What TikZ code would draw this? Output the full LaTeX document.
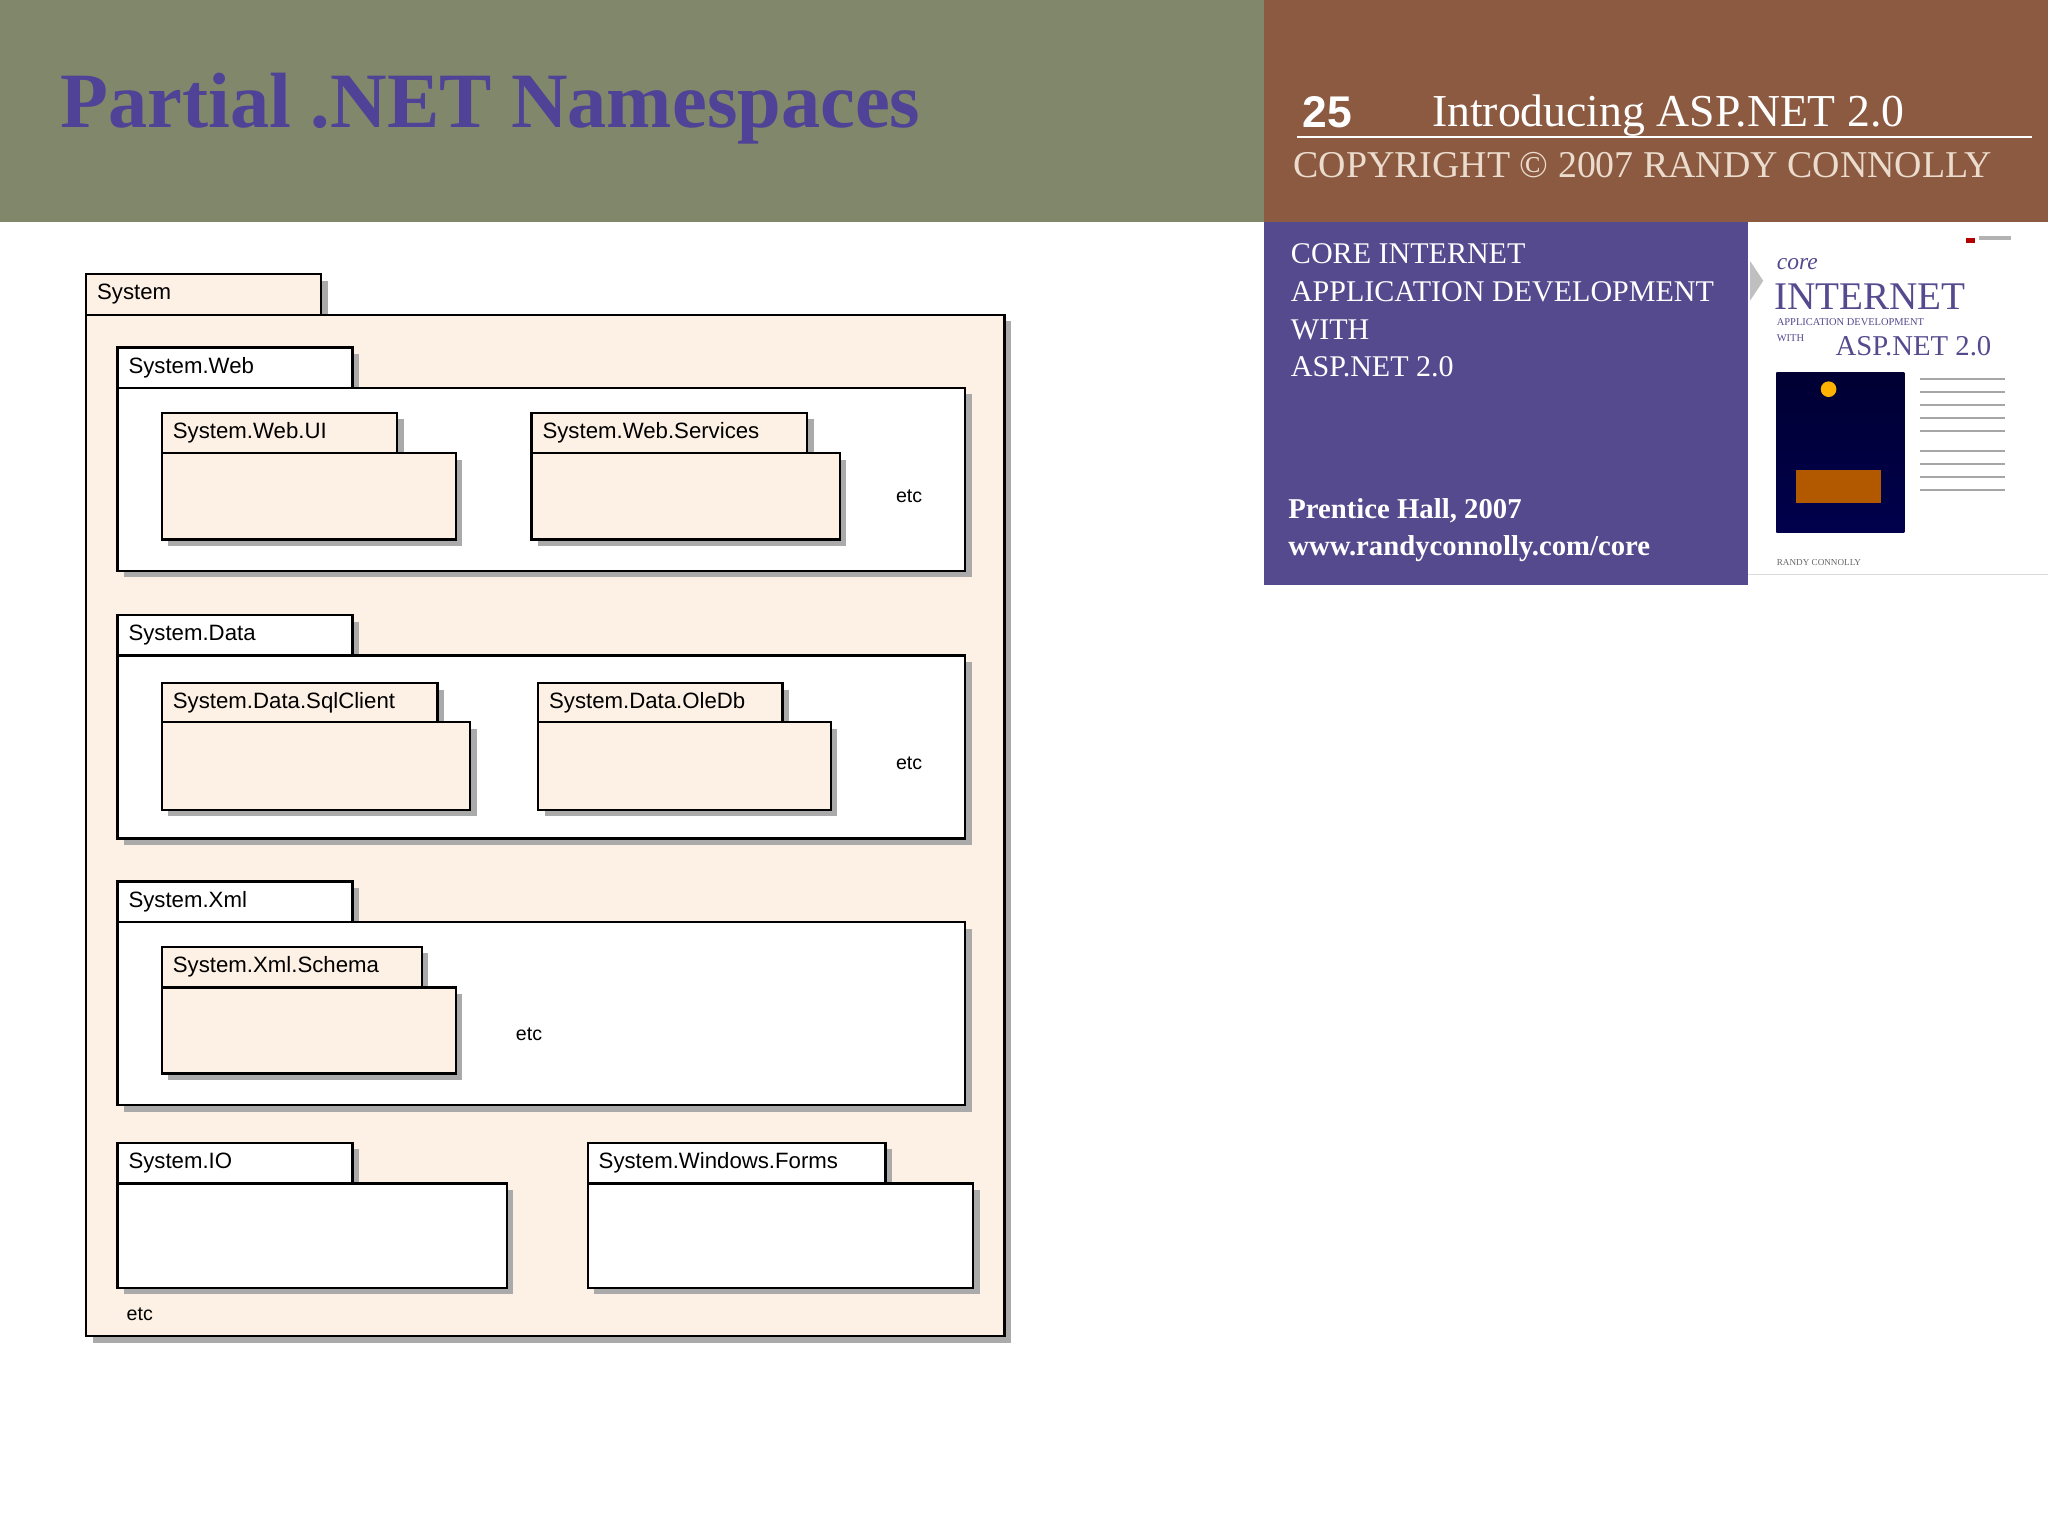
\documentclass[tikz,border=0pt]{standalone}
\usepackage{fontspec}
\setmainfont{Liberation Serif}
\newfontfamily\lsans{Liberation Sans}
\definecolor{hdrgreen}{RGB}{128,135,106}
\definecolor{hdrbrown}{RGB}{139,90,64}
\definecolor{hdrpurple}{RGB}{86,74,143}
\definecolor{titlepurple}{RGB}{80,66,150}
\definecolor{peach}{RGB}{253,240,228}
\definecolor{shad}{RGB}{170,170,170}
\definecolor{copyc}{RGB}{235,220,205}
\tikzset{
  lbl/.style={anchor=west,inner sep=0pt,font=\lsans\fontsize{8.5}{9}\selectfont},
  etcl/.style={inner sep=0pt,font=\lsans\fontsize{7.5}{8}\selectfont},
  box/.style={draw=black,line width=0.9pt},
}
% #1 x1, #2 y tab top, #3 tab x2, #4 tab bottom, #5 body x2, #6 body y2, #7 fill, #8 name, #9 label
\newcommand{\pkgdraw}[9]{%
  \fill[shad] (#1+5,#4+5) rectangle (#5+5,#6+5);
  \fill[shad] (#1+5,#2+5) rectangle (#3+5,#4+5);
  \draw[box,fill=#7] (#1,#4) rectangle (#5,#6);
  \draw[box,fill=#7] (#1,#2) rectangle (#3,#4);
  \node[lbl] (#8) at (#1+8,{(#2+#4)/2}) {#9};
}
\begin{document}
\begin{tikzpicture}[x=0.5pt,y=-0.5pt]
\useasboundingbox (0,0) rectangle (1568,1176);
\fill[white] (0,0) rectangle (1568,1176);
% header
\fill[hdrgreen] (0,0) rectangle (968,170);
\fill[hdrbrown] (968,0) rectangle (1568,170);
\node[anchor=base west,inner sep=0pt,text=titlepurple,font=\bfseries\fontsize{30}{32}\selectfont] (title) at (46,98) {Partial .NET Namespaces};
\node[anchor=base west,inner sep=0pt,text=white,font=\lsans\bfseries\fontsize{17}{18}\selectfont] (num) at (997,98) {25};
\node[anchor=base west,inner sep=0pt,text=white,font=\fontsize{17.5}{18}\selectfont] (intro) at (1096,97) {Introducing ASP.NET 2.0};
\draw[white,line width=0.8pt] (993,105) -- (1556,105);
\node[anchor=base west,inner sep=0pt,text=copyc,font=\fontsize{14.5}{15}\selectfont] (copy) at (990,136) {COPYRIGHT © 2007 RANDY CONNOLLY};
% purple box
\fill[hdrpurple] (968,170) rectangle (1338,448);
\node[anchor=north west,inner sep=0pt,text=white,align=left,font=\fontsize{11.5}{14.5}\selectfont] (core) at (988,186) {CORE INTERNET\\APPLICATION DEVELOPMENT\\WITH\\ASP.NET 2.0};
\node[anchor=north west,inner sep=0pt,text=white,align=left,font=\bfseries\fontsize{11}{14.5}\selectfont] (ph) at (986,381) {Prentice Hall, 2007\\www.randyconnolly.com/core};
% book cover
\fill[white] (1338,170) rectangle (1568,440);
\draw[black!15] (1338,440) -- (1568,440);
\fill[black!25] (1340,200) -- (1350,215) -- (1340,230) -- cycle;
\node[anchor=west,inner sep=0pt,text=hdrpurple,font=\itshape\fontsize{9}{9}\selectfont] (bc) at (1360,202) {core};
\node[anchor=west,inner sep=0pt,text=hdrpurple,font=\fontsize{15}{15}\selectfont] (bi) at (1358,227) {INTERNET};
\node[anchor=west,inner sep=0pt,text=hdrpurple,font=\fontsize{4}{4}\selectfont] (ba) at (1360,247) {APPLICATION DEVELOPMENT};
\node[anchor=west,inner sep=0pt,text=hdrpurple,font=\fontsize{4}{4}\selectfont] (bw) at (1360,259) {WITH};
\node[anchor=west,inner sep=0pt,text=hdrpurple,font=\fontsize{11}{11}\selectfont] (bn) at (1405,265) {ASP.NET 2.0};
\fill[red!70!black] (1505,182) rectangle (1512,186);
\fill[black!30] (1515,181) rectangle (1540,184);
\shade[top color=black!80!blue,bottom color=blue!30!black] (1360,285) rectangle (1458,408);
\fill[orange!60!yellow] (1400,298) circle (6);
\fill[orange!70!black] (1375,360) rectangle (1440,385);
\foreach \yy in {290,300,310,320,330,345,355,365,375}{\draw[black!35,line width=0.8pt] (1470,\yy) -- (1535,\yy);}
\node[anchor=west,inner sep=0pt,text=black!60,font=\fontsize{3.5}{4}\selectfont] (ba2) at (1360,431) {RANDY CONNOLLY};
% diagram
\pkgdraw{66}{210}{246}{241}{769}{1023}{peach}{sys}{System}
\pkgdraw{90}{266}{270}{297}{739}{437}{white}{web}{System.Web}
\pkgdraw{124}{316}{304}{347}{349}{413}{peach}{webui}{System.Web.UI}
\pkgdraw{407}{316}{618}{347}{643}{413}{peach}{websvc}{System.Web.Services}
\node[etcl] (etc1) at (696,380) {etc};
\pkgdraw{90}{471}{270}{502}{739}{642}{white}{data}{System.Data}
\pkgdraw{124}{523}{335}{553}{360}{620}{peach}{sql}{System.Data.SqlClient}
\pkgdraw{412}{523}{599}{553}{636}{620}{peach}{ole}{System.Data.OleDb}
\node[etcl] (etc2) at (696,584) {etc};
\pkgdraw{90}{675}{270}{706}{739}{846}{white}{xml}{System.Xml}
\pkgdraw{124}{725}{323}{756}{349}{822}{peach}{schema}{System.Xml.Schema}
\node[etcl] (etc3) at (405,792) {etc};
\pkgdraw{90}{875}{270}{906}{388}{986}{white}{io}{System.IO}
\pkgdraw{450}{875}{678}{906}{745}{986}{white}{forms}{System.Windows.Forms}
\node[etcl] (etc4) at (107,1006) {etc};
\end{tikzpicture}
\end{document}
